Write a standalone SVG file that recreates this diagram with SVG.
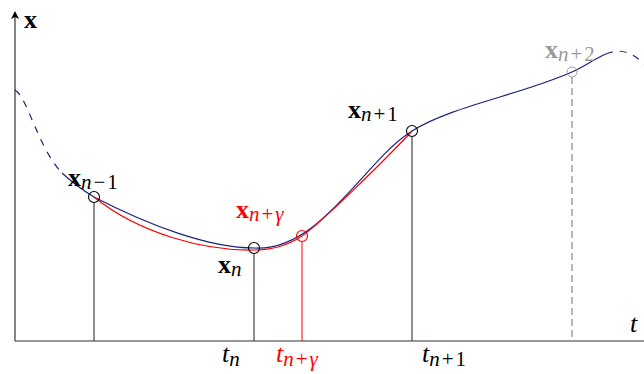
<svg xmlns="http://www.w3.org/2000/svg" width="644" height="374" viewBox="0 0 644 374">
<style>
text{font-family:"Liberation Serif","Times New Roman",serif;font-size:26px}
.b{font-weight:bold}
.i{font-style:italic}
.s{font-size:21px}
.blue{fill:none;stroke:#1a237e;stroke-width:1.2}
.red{fill:none;stroke:#ff0000;stroke-width:1.2}
.vl{stroke:#444;stroke-width:1.2}
.pt{fill:none;stroke:#000;stroke-width:1.1}
</style>
<defs>
<marker id="ah" markerWidth="10" markerHeight="10" refX="5" refY="5" orient="auto" markerUnits="userSpaceOnUse">
<path d="M1,1 L9,5 L1,9 L3,5 Z" fill="#000"/>
</marker>
</defs>
<g id="axes">
<line x1="15" y1="341" x2="15" y2="15" stroke="#333" stroke-width="1.2" marker-end="url(#ah)"/>
<line x1="15" y1="341" x2="644" y2="341" stroke="#333" stroke-width="1.2"/>
<text class="b" x="24" y="28">x</text>
<text class="i" x="630" y="332">t</text>
</g>
<g id="connectors">
<line class="vl" x1="94" y1="203" x2="94" y2="341"/>
<line class="vl" x1="254" y1="254" x2="254" y2="341"/>
<line x1="302" y1="242" x2="302" y2="341" stroke="#ff0000" stroke-width="1"/>
<line class="vl" x1="412" y1="137" x2="412" y2="341"/>
<line x1="572" y1="77" x2="572" y2="341" stroke="#888" stroke-width="1.2" stroke-dasharray="7,4"/>
<path class="blue" stroke-dasharray="7,7" d="M15 90 C28 98 38 148 62 173"/>
<path class="blue" d="M62 173 C75 185 84 191 94 197 C150 226 210 248 254 248 C320 252 365 160 412 131 C452 106 520 95 572 72 C585 66 596 58 606 54"/>
<path class="blue" stroke-dasharray="7,7" d="M606 54 C620 48 632 52 644 64"/>
<path class="red" d="M94 197 C140 234 205 251 254 250 C275 250 290 244 302 236 C320 224 385 160 412 131"/>
</g>
<g id="n-1">
<circle class="pt" cx="94" cy="197" r="5.5"/>
<text x="68" y="186"><tspan class="b">x</tspan><tspan class="i s" dy="3">n</tspan><tspan class="s" dx="2">−</tspan><tspan class="s" dx="2">1</tspan></text>
</g>
<g id="n">
<circle class="pt" cx="254" cy="248" r="5.5"/>
<text x="218" y="273"><tspan class="b">x</tspan><tspan class="i s" dy="3">n</tspan></text>
<text class="i" x="222" y="362">t<tspan class="s" dy="4">n</tspan></text>
</g>
<g id="ngamma">
<circle cx="302" cy="236" r="5.5" fill="none" stroke="#ff0000" stroke-width="1.1"/>
<text x="236" y="218" fill="#ff0000"><tspan class="b">x</tspan><tspan class="i s" dy="3">n</tspan><tspan class="s" dx="2">+</tspan><tspan class="i s" dx="2">γ</tspan></text>
<text class="i" x="276" y="362" fill="#ff0000">t<tspan class="s" dy="4">n</tspan><tspan class="s" font-style="normal" dx="2">+</tspan><tspan class="s" dx="2">γ</tspan></text>
</g>
<g id="n+1">
<circle class="pt" cx="412" cy="131" r="5.5"/>
<text x="348" y="118"><tspan class="b">x</tspan><tspan class="i s" dy="3">n</tspan><tspan class="s" dx="2">+</tspan><tspan class="s" dx="2">1</tspan></text>
<text class="i" x="422" y="362">t<tspan class="s" dy="4">n</tspan><tspan class="s" font-style="normal" dx="2">+</tspan><tspan class="s" font-style="normal" dx="2">1</tspan></text>
</g>
<g id="n+2">
<circle cx="572" cy="72" r="5" fill="none" stroke="#888" stroke-width="0.8"/>
<text x="545" y="58" fill="#999"><tspan class="b">x</tspan><tspan class="i s" dy="3">n</tspan><tspan class="s" dx="2">+</tspan><tspan class="s" dx="2">2</tspan></text>
</g>
</svg>
